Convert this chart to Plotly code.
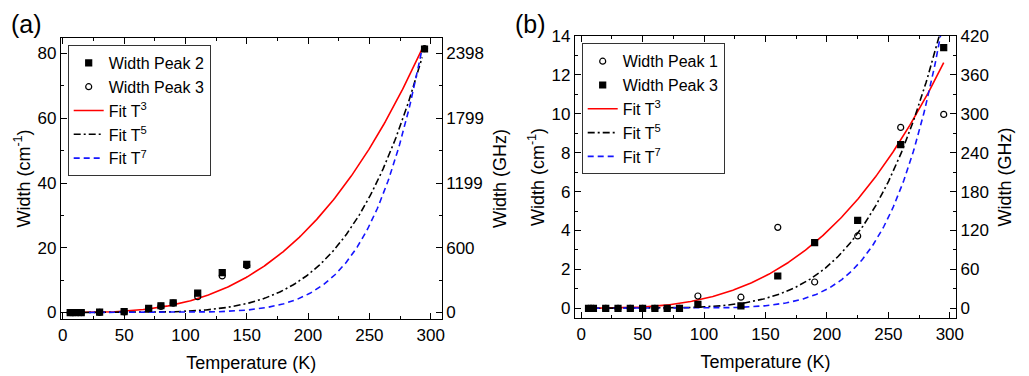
import numpy as np
import plotly.graph_objects as go

# ---------------- Data ----------------
# Panel (a)
T_a = [6, 10, 15, 30, 50, 70, 80, 90, 110, 130, 150, 295]
peak2_a = [0.0, 0.0, 0.0, 0.1, 0.3, 1.3, 2.1, 3.0, 6.0, 12.3, 14.9, 81.4]
peak3_a = [0.0, 0.0, 0.0, 0.05, 0.2, 1.2, 1.9, 2.9, 4.9, 11.3, 14.5, 81.5]
fit_coef_a = {3: 3.24e-6, 5: 3.65e-11, 7: 4.4e-16}
fit_range_a = (5, 293)

# Panel (b)
T_b = [6, 10, 20, 30, 40, 50, 60, 70, 80, 95, 130, 160, 190, 225, 260, 295]
peak1_b = [0, 0, 0, 0, 0, 0, 0, 0, 0, 0.63, 0.57, 4.16, 1.35, 3.72, 9.3, 9.97]
peak3_b = [0, 0, 0, 0, 0, 0, 0, 0, 0, 0.2, 0.12, 1.66, 3.38, 4.52, 8.41, 13.4]
fit_coef_b = {3: 4.92e-7, 5: 6.67e-12, 7: 7.65e-17}
fit_range_b = (10, 295)

# Axis tick labels
xticks = [0, 50, 100, 150, 200, 250, 300]
yticks_a = [0, 20, 40, 60, 80]
yticks_a_ghz = ["0", "600", "1199", "1799", "2398"]
yticks_b = [0, 2, 4, 6, 8, 10, 12, 14]
yticks_b_ghz = ["0", "60", "120", "180", "240", "300", "360", "420"]

# ---------------- Styling ----------------
FONT = "Liberation Sans, Arial, sans-serif"
FS = 17
OFF = 8  # page body margin offset
W, H = 1029 - OFF, 376 - OFF
ML, MR, MT, MB = 61 - OFF, 73, 36 - OFF, 57
PW, PH = W - ML - MR, H - MT - MB


def px(x):
    return (x - OFF - ML) / PW


def py(y):
    return (H - MB - (y - OFF)) / PH


fit_styles = {
    3: dict(color="#FF0000", dash="solid"),
    5: dict(color="#000000", dash="7px,3px,2px,3px"),
    7: dict(color="#1515FF", dash="6px,4px"),
}

line_traces, mark_traces = [], []


def add_panel(xa, ya, legend, T, series, coefs, frange):
    tt = np.linspace(frange[0], frange[1], 300)
    rank = 1
    for name, vals, sym in series:
        mark_traces.append(go.Scatter(
            x=T, y=vals, mode="markers", name=name, xaxis=xa, yaxis=ya,
            legend=legend, legendrank=rank,
            marker=dict(symbol=sym, size=6, color="black",
                        line=dict(color="black", width=1.2)),
        ))
        rank += 1
    for n, a in coefs.items():
        line_traces.append(go.Scatter(
            x=tt, y=a * tt ** n, mode="lines", name=f"Fit T<sup>{n}</sup>",
            xaxis=xa, yaxis=ya, legend=legend, legendrank=rank,
            line=dict(color=fit_styles[n]["color"], dash=fit_styles[n]["dash"], width=1.6),
        ))
        rank += 1


add_panel("x", "y", "legend", T_a,
          [("Width Peak 2", peak2_a, "square"), ("Width Peak 3", peak3_a, "circle-open")],
          fit_coef_a, fit_range_a)
add_panel("x2", "y3", "legend2", T_b,
          [("Width Peak 1", peak1_b, "circle-open"), ("Width Peak 3", peak3_b, "square")],
          fit_coef_b, fit_range_b)

fig = go.Figure(data=line_traces + mark_traces)
# Invisible traces to activate the right-side axes
fig.add_trace(go.Scatter(x=[None], y=[None], xaxis="x", yaxis="y2", showlegend=False))
fig.add_trace(go.Scatter(x=[None], y=[None], xaxis="x2", yaxis="y4", showlegend=False))

axis_common = dict(
    showline=True, linecolor="black", linewidth=1.2,
    ticks="inside", ticklen=6, tickwidth=1.2, tickcolor="black",
    showgrid=False, zeroline=False, automargin=False,
    tickfont=dict(family=FONT, size=FS, color="black"),
)
minor_common = dict(ticks="inside", ticklen=3, tickwidth=1.2, tickcolor="black", showgrid=False)
title_font = dict(family=FONT, size=18, color="black")

dom_a = [px(61), px(441.7)]
dom_b = [px(575), px(956)]
ydom_a = [py(319), py(38)]
ydom_b = [py(318), py(36)]

legend_common = dict(xanchor="left", yanchor="top",
                     bordercolor="#333333", borderwidth=1, bgcolor="white",
                     font=dict(family=FONT, size=16, color="black"),
                     tracegroupgap=0, itemwidth=30)

fig.update_layout(
    width=W, height=H,
    margin=dict(l=ML, r=MR, t=MT, b=MB, autoexpand=False),
    paper_bgcolor="white", plot_bgcolor="white",
    font=dict(family=FONT, size=FS, color="black"),
    xaxis=dict(domain=dom_a, anchor="y", range=[-1.5, 309], tickvals=xticks,
               mirror="ticks", minor=dict(dtick=25, **minor_common),
               title=dict(text="Temperature (K)", font=title_font, standoff=12),
               **axis_common),
    yaxis=dict(domain=ydom_a, anchor="x", range=[-2, 84.8], tickvals=yticks_a,
               minor=dict(dtick=10, **minor_common),
               title=dict(text="Width (cm<sup>-1</sup>)", font=title_font, standoff=2),
               **axis_common),
    yaxis2=dict(overlaying="y", anchor="x", side="right", range=[-2, 84.8],
                tickvals=yticks_a, ticktext=yticks_a_ghz,
                minor=dict(dtick=10, **minor_common),
                title=dict(text="Width (GHz)", font=title_font, standoff=10),
                **axis_common),
    xaxis2=dict(domain=dom_b, anchor="y3", range=[-5, 305], tickvals=xticks,
                mirror="ticks", minor=dict(dtick=25, **minor_common),
                title=dict(text="Temperature (K)", font=title_font, standoff=12),
                **axis_common),
    yaxis3=dict(domain=ydom_b, anchor="x2", range=[-0.5, 14], tickvals=yticks_b,
                minor=dict(dtick=1, **minor_common),
                title=dict(text="Width (cm<sup>-1</sup>)", font=title_font, standoff=2),
                **axis_common),
    yaxis4=dict(overlaying="y3", anchor="x2", side="right", range=[-0.5, 14],
                tickvals=yticks_b, ticktext=yticks_b_ghz,
                minor=dict(dtick=1, **minor_common),
                title=dict(text="Width (GHz)", font=title_font, standoff=10),
                **axis_common),
    legend=dict(x=px(67.7), y=py(45), **legend_common),
    legend2=dict(x=px(581.7), y=py(43.3), **legend_common),
    annotations=[
        dict(text="(a)", x=px(9), y=py(8), xref="paper", yref="paper",
             xanchor="left", yanchor="top", showarrow=False,
             font=dict(family=FONT, size=25, color="black")),
        dict(text="(b)", x=px(513), y=py(8), xref="paper", yref="paper",
             xanchor="left", yanchor="top", showarrow=False,
             font=dict(family=FONT, size=25, color="black")),
    ],
)

fig.write_html("out.html")
